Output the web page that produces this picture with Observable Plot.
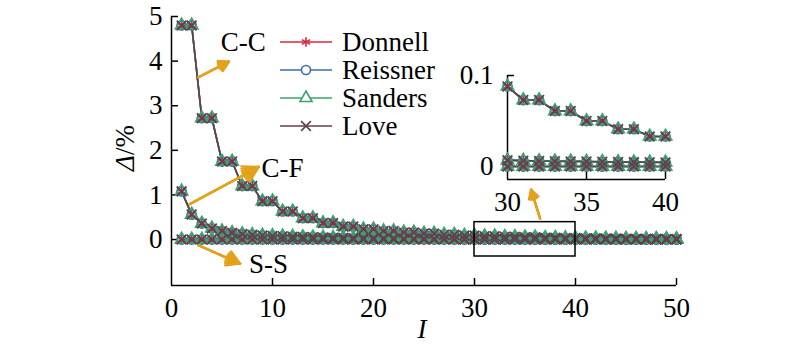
<!DOCTYPE html>
<html><head><meta charset="utf-8">
<script src="https://cdn.jsdelivr.net/npm/d3@7"></script>
<script src="https://cdn.jsdelivr.net/npm/@observablehq/plot@0.6"></script>
<style>
body{margin:0;background:#fff;}
#wrap{position:relative;width:800px;height:356px;font-family:"Liberation Serif","Times New Roman",serif;}
#wrap svg{position:absolute;}
</style></head><body><div id="wrap"></div>
<script>
// ---- data ----
const I = [1,2,3,4,5,6,7,8,9,10,11,12,13,14,15,16,17,18,19,20,21,22,23,24,25,26,27,28,29,30,31,32,33,34,35,36,37,38,39,40,41,42,43,44,45,46,47,48,49,50];
const theories = ["Donnell","Reissner","Sanders","Love"];
const theorySymbols = ["asterisk","circle","triangle","times"];
const theoryColors = ["#d8283f","#3b6cb4","#3ba46a","#603f4f"];
const boundaries = ["C-C","C-F","S-S"];
const ccDelta = [4.80,4.80,2.72,2.72,1.75,1.75,1.20,1.20,0.86,0.86,0.63,0.63,0.48,0.48,0.37,0.37,0.29,0.29,0.23,0.23,0.19,0.19,0.16,0.16,0.135,0.135,0.11,0.11,0.088,0.088,0.073,0.073,0.061,0.061,0.050,0.050,0.041,0.041,0.033,0.033,0.028,0.028,0.023,0.023,0.019,0.019,0.016,0.016,0.013,0.013];
const cfDelta = [1.08,0.56,0.36,0.25,0.19,0.15,0.125,0.105,0.092,0.082,0.073,0.065,0.058,0.052,0.047,0.042,0.038,0.034,0.031,0.028,0.025,0.022,0.020,0.018,0.016,0.014,0.012,0.010,0.0085,0.0068,0.0064,0.0061,0.0058,0.0056,0.0054,0.0052,0.0050,0.0048,0.0046,0.0045,0.0043,0.0041,0.0040,0.0038,0.0037,0.0035,0.0034,0.0033,0.0032,0.0030];
const ssDelta = [0,0,0,0,0,0,0,0,0,0,0,0,0,0,0,0,0,0,0,0,0,0,0,0,0,0,0,0,0,0,0,0,0,0,0,0,0,0,0,0,0,0,0,0,0,0,0,0,0,0];
const xTicks = [0,10,20,30,40,50];
const yTicks = [0,1,2,3,4,5];
const xDomain = [0,50];
const yDomain = [-1.03,5];
const insetXTicks = [30,35,40];
const insetYTicks = [0,0.1];
const insetXDomain = [30,40];
const insetYDomain = [-0.0143,0.1];
const zoomBox = [{x1:30,x2:40,y1:-0.38,y2:0.39}];
const annoLabels = [
  {text:"C-C", x:7.1, y:4.42},
  {text:"C-F", x:11.0, y:1.59},
  {text:"S-S", x:9.6, y:-0.55}
];
const annoArrows = [
  {x1:2.67,y1:3.64,x2:5.7,y2:3.99},
  {x1:1.78,y1:0.79,x2:8.65,y2:1.63},
  {x1:2.67,y1:-0.13,x2:6.8,y2:-0.54},
  {x1:36.5,y1:0.47,x2:35.6,y2:1.12}
];

// ---- table ----
const seriesByBoundary = {"C-C":ccDelta,"C-F":cfDelta,"S-S":ssDelta};
const rows = [];
theories.forEach(t => boundaries.forEach(b => seriesByBoundary[b].forEach((v,i) => rows.push({I:I[i], delta:v, theory:t, boundary:b}))));
const insetRows = rows.filter(d => d.I >= insetXDomain[0] && d.I <= insetXDomain[1]);

const FONT = '"Liberation Serif","Times New Roman",serif';
const FS = 27;
const ORANGE = "#e3a21c";

function dataMarks(data, r){
  return [
    Plot.line(data, {x:"I", y:"delta", z:d=>d.theory+d.boundary, stroke:"theory", strokeWidth:1.6}),
    Plot.dot(data, {x:"I", y:"delta", symbol:"theory", stroke:"theory", r, strokeWidth:1.8})
  ];
}
// filled-looking arrow heads: a fan of arrows with decreasing head angles
const arrowFan = [60,45,30,15].map(a =>
  Plot.arrow(annoArrows, {x1:"x1", y1:"y1", x2:"x2", y2:"y2", stroke:ORANGE, strokeWidth:2.2, headLength:12, headAngle:a, strokeLinejoin:"miter"})
);

// ---- main plot ----
const W=800,H=356,mL=171,mR=124,mT=16,mB=71;
const main = Plot.plot({
  width:W, height:H, marginLeft:mL, marginRight:mR, marginTop:mT, marginBottom:mB,
  style:{fontFamily:FONT, fontSize:FS+"px", background:"transparent", color:"black"},
  x:{domain:xDomain},
  y:{domain:yDomain},
  color:{domain:theories, range:theoryColors},
  symbol:{domain:theories, range:theorySymbols},
  marks:[
    Plot.axisX(xTicks, {tickSize:0, tickPadding:12, label:null, fontSize:FS}),
    Plot.axisY(yTicks, {tickSize:0, tickPadding:9, label:null, fontSize:FS}),
    Plot.ruleX([xDomain[0]], {stroke:"black", strokeWidth:1.5}),
    Plot.ruleY([yDomain[0]], {stroke:"black", strokeWidth:1.5}),
    Plot.tickX(xTicks.slice(1), {x:d=>d, insetTop:(H-mT-mB)-7, stroke:"black", strokeWidth:1.5}),
    Plot.tickY(yTicks, {y:d=>d, insetRight:(W-mL-mR)-7, stroke:"black", strokeWidth:1.5}),
    ...dataMarks(rows, 4.5),
    Plot.rect(zoomBox, {x1:"x1", x2:"x2", y1:"y1", y2:"y2", fill:"none", stroke:"black", strokeWidth:1.5}),
    ...arrowFan,
    Plot.text(annoLabels, {x:"x", y:"y", text:"text", fontSize:FS, textAnchor:"middle", fill:"black"})
  ]
});
main.style.left="0px"; main.style.top="0px";

// axis titles and legend
const sv = d3.select(main);
sv.append("text").attr("x",422).attr("y",338).attr("text-anchor","middle")
  .style("font-family",FONT).style("font-size",FS+"px").style("font-style","italic").text("I");
const yl = sv.append("text").attr("transform","translate(134,148) rotate(-90)").attr("text-anchor","middle")
  .style("font-family",FONT).style("font-size",FS+"px");
yl.append("tspan").style("font-style","italic").text("Δ");
yl.append("tspan").text("/%");

const lg = sv.append("g").attr("text-anchor","start");
theories.forEach((t,i) => {
  const y = 42 + i*28;
  lg.append("line").attr("x1",280).attr("x2",332).attr("y1",y).attr("y2",y)
    .attr("stroke",theoryColors[i]).attr("stroke-width",1.6);
  const sym = {asterisk:d3.symbolAsterisk, circle:d3.symbolCircle, triangle:d3.symbolTriangle, times:d3.symbolTimes}[theorySymbols[i]];
  lg.append("path").attr("d", d3.symbol(sym, 4.5*4.5*Math.PI)()).attr("transform",`translate(306,${y})`)
    .attr("fill","white").attr("stroke",theoryColors[i]).attr("stroke-width",1.6);
  lg.append("text").attr("x",342).attr("y",y).attr("dy","0.35em").attr("text-anchor","start")
    .style("font-family",FONT).style("font-size",FS+"px").text(t);
});

// ---- inset ----
const iW=250,iH=170,iL=67,iR=25,iT=25,iB=41;
const inset = Plot.plot({
  width:iW, height:iH, marginLeft:iL, marginRight:iR, marginTop:iT, marginBottom:iB,
  style:{fontFamily:FONT, fontSize:FS+"px", background:"transparent", color:"black", overflow:"visible"},
  x:{domain:insetXDomain},
  y:{domain:insetYDomain},
  color:{domain:theories, range:theoryColors},
  symbol:{domain:theories, range:theorySymbols},
  marks:[
    Plot.axisX(insetXTicks, {tickSize:0, tickPadding:12, label:null, fontSize:FS}),
    Plot.axisY(insetYTicks, {tickSize:0, tickPadding:14, label:null, fontSize:FS, tickFormat:d=>String(d)}),
    Plot.ruleX([insetXDomain[0]], {stroke:"black", strokeWidth:1.5}),
    Plot.ruleY([insetYDomain[0]], {stroke:"black", strokeWidth:1.5}),
    Plot.tickX(insetXTicks.slice(1), {x:d=>d, insetTop:(iH-iT-iB)-7, stroke:"black", strokeWidth:1.5}),
    Plot.tickY(insetYTicks, {y:d=>d, insetRight:(iW-iL-iR)-7, stroke:"black", strokeWidth:1.5}),
    ...dataMarks(insetRows, 4.5)
  ]
});
inset.style.left="440px"; inset.style.top="50px";

const wrap = document.getElementById("wrap");
wrap.appendChild(main);
wrap.appendChild(inset);
</script></body></html>
